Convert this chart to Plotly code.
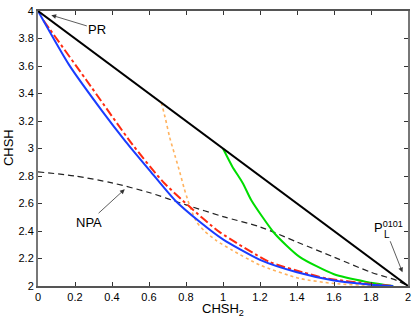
import plotly.graph_objects as go

# ---- data ----
pr_x = [0, 2]
pr_y = [4, 2]

blue_x = [0, 0.168, 0.348, 0.474, 0.61, 0.74, 0.874, 1.0, 1.2, 1.4, 1.6, 1.8, 1.92]
blue_y = [4, 3.608, 3.27, 3.05, 2.83, 2.624, 2.467, 2.339, 2.19, 2.10, 2.04, 2.01, 2.0]

red_x = [0.03, 0.06, 0.26, 0.51, 0.676, 0.82, 0.98, 1.25, 1.43, 1.56, 1.8, 1.92]
red_y = [3.93, 3.874, 3.50, 3.03, 2.757, 2.576, 2.394, 2.176, 2.10, 2.055, 2.015, 2.0]

orange_x = [0.667, 0.69, 0.712, 0.74, 0.766, 0.79, 0.811, 0.835, 0.86, 0.9, 0.964, 1.05, 1.2, 1.414, 1.6, 1.8, 1.9]
orange_y = [3.333, 3.21, 3.08, 2.95, 2.83, 2.71, 2.62, 2.53, 2.46, 2.40, 2.33, 2.26, 2.152, 2.055, 2.018, 2.004, 2.0]

green_x = [1.0, 1.05, 1.108, 1.153, 1.279, 1.414, 1.6, 1.775, 1.92]
green_y = [3.0, 2.87, 2.746, 2.624, 2.382, 2.212, 2.085, 2.03, 2.0]

npa_x = [0, 0.2, 0.4, 0.6, 0.8, 1.0, 1.2, 1.4, 1.6, 1.8, 1.94, 2.0]
npa_y = [2.83, 2.80, 2.75, 2.68, 2.59, 2.505, 2.43, 2.32, 2.21, 2.10, 2.04, 2.0]

x_ticks = [0, 0.2, 0.4, 0.6, 0.8, 1, 1.2, 1.4, 1.6, 1.8, 2]
x_tick_labels = ["0", "0.2", "0.4", "0.6", "0.8", "1", "1.2", "1.4", "1.6", "1.8", "2"]
y_ticks = [2, 2.2, 2.4, 2.6, 2.8, 3, 3.2, 3.4, 3.6, 3.8, 4]
y_tick_labels = ["2", "2.2", "2.4", "2.6", "2.8", "3", "3.2", "3.4", "3.6", "3.8", "4"]

FONT = "Liberation Sans, Arial, Helvetica, sans-serif"

fig = go.Figure()
fig.add_trace(go.Scatter(x=npa_x, y=npa_y, mode="lines", line=dict(color="#222", width=1.2, dash="6px,4px", shape="spline", smoothing=0.8)))
fig.add_trace(go.Scatter(x=orange_x, y=orange_y, mode="lines", line=dict(color="#ffb25e", width=1.6, dash="dot", shape="spline", smoothing=0.6)))
fig.add_trace(go.Scatter(x=green_x, y=green_y, mode="lines", line=dict(color="#00dd00", width=2, shape="spline", smoothing=0.6)))
fig.add_trace(go.Scatter(x=red_x, y=red_y, mode="lines", line=dict(color="#ff2a10", width=2, dash="dashdot", shape="spline", smoothing=0.6)))
fig.add_trace(go.Scatter(x=blue_x, y=blue_y, mode="lines", line=dict(color="#1a3cff", width=2, shape="spline", smoothing=0.6)))
fig.add_trace(go.Scatter(x=pr_x, y=pr_y, mode="lines", line=dict(color="#000", width=2)))

ann_font = dict(family=FONT, size=13, color="#000")
fig.add_annotation(x=0.072, y=3.97, text="PR", ax=46, ay=14, showarrow=True,
                   arrowhead=2, arrowsize=1.2, arrowwidth=0.8, arrowcolor="#333", font=ann_font)
fig.add_annotation(x=0.469, y=2.704, text="NPA", ax=-36, ay=33, showarrow=True,
                   arrowhead=2, arrowsize=1.2, arrowwidth=0.8, arrowcolor="#333", font=ann_font)
fig.add_annotation(x=1.97, y=2.10, text="L", ax=-15, ay=-38, showarrow=True,
                   arrowhead=2, arrowsize=1.2, arrowwidth=0.8, arrowcolor="#333",
                   font=dict(family=FONT, size=10, color="#000"))
fig.add_annotation(x=1.804, y=2.43, text="P<sup>0101</sup>", showarrow=False, xanchor="left",
                   yanchor="middle", font=ann_font)

# axis titles
fig.add_annotation(xref="paper", yref="paper", x=0.5, y=-0.086, text="CHSH<sub>2</sub>",
                   showarrow=False, xanchor="center", yanchor="middle", font=ann_font)
fig.add_annotation(xref="paper", yref="paper", x=-0.078, y=0.502, text="CHSH", textangle=-90,
                   showarrow=False, xanchor="center", yanchor="middle", font=ann_font)

fig.update_layout(
    width=415, height=321,
    margin=dict(l=38, r=7, t=11, b=35, autoexpand=False),
    paper_bgcolor="white", plot_bgcolor="white",
    showlegend=False,
    font=dict(family=FONT, size=11, color="#000"),
)
fig.update_xaxes(range=[0, 2], tickvals=x_ticks, ticktext=x_tick_labels,
                 ticks="inside", ticklen=4, tickcolor="#333", mirror="allticks",
                 showline=True, linecolor="#555", linewidth=1.5, showgrid=False, zeroline=False,
                 automargin=False, ticklabeloverflow="allow")
fig.update_yaxes(range=[2, 4], tickvals=y_ticks, ticktext=y_tick_labels,
                 ticks="inside", ticklen=4, tickcolor="#333", mirror="allticks",
                 showline=True, linecolor="#777", linewidth=2, showgrid=False, zeroline=False,
                 automargin=False, ticklabeloverflow="allow")

fig.write_html("out.html", config={"displayModeBar": False},
               post_script="document.body.style.margin='0';document.body.style.overflow='hidden';")
